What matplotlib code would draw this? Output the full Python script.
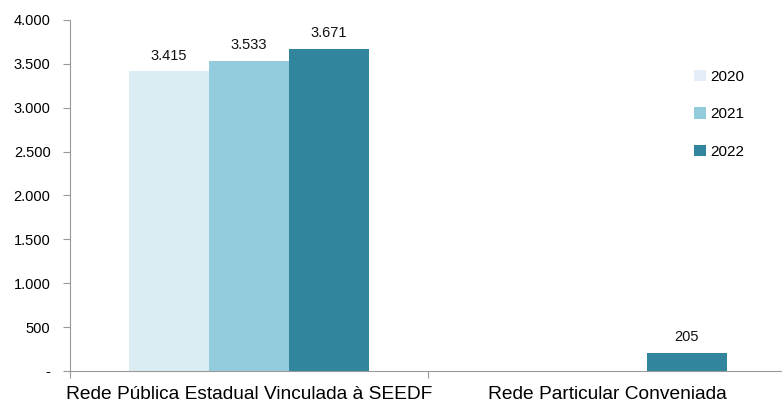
import numpy as np
import matplotlib
matplotlib.use("Agg")
import matplotlib.pyplot as plt
from matplotlib.ticker import FuncFormatter
from matplotlib.patches import Patch

plt.rcParams['font.family'] = ['Liberation Sans', 'DejaVu Sans']

# data
categories = ["Rede Pública Estadual Vinculada à SEEDF", "Rede Particular Conveniada"]
years = ["2020", "2021", "2022"]
v2020 = [3415, None]
v2021 = [3533, None]
v2022 = [3671, 205]
series = [v2020, v2021, v2022]
colors = ["#DAEDF3", "#93CDDD", "#31859C"]
legend_colors = ["#E4EDF7", "#93CDDD", "#31859C"]

fig = plt.figure(figsize=(7.82, 4.05), dpi=100)
# axis runs a little past the right edge, as in the source
ax = fig.add_axes([70 / 782, 1 - 371 / 405, 716 / 782, 351 / 405])

x = np.arange(len(categories))
w = 0.223
for i, (vals, col) in enumerate(zip(series, colors)):
    off = (i - 1) * w
    for xi, v in zip(x, vals):
        if v is None:
            continue
        ax.bar(xi + off, v, width=w, color=col, edgecolor="none")
        ax.text(xi + off, v + 100, f"{v:,}".replace(",", "."),
                ha="center", va="bottom", fontsize=10.5, color="#111111")

ax.set_xlim(-0.5, 1.5)
ax.set_ylim(0, 4000)
ax.set_yticks(np.arange(0, 4001, 500))
ax.yaxis.set_major_formatter(FuncFormatter(
    lambda v, p: "-" if v == 0 else f"{int(v):,}".replace(",", ".")))
ax.set_xticks([-0.5, 0.5, 1.5])
ax.set_xticklabels([])
ax.set_xticks(x, minor=True)
ax.set_xticklabels(categories, minor=True, fontsize=13.8)
ax.tick_params(axis="x", which="major", length=5, color="#999999")
ax.tick_params(axis="x", which="minor", length=0, pad=11)
ax.tick_params(axis="y", labelsize=10.5, length=5, color="#999999", pad=9)

for s in ["top", "right"]:
    ax.spines[s].set_visible(False)
for s in ["left", "bottom"]:
    ax.spines[s].set_color("#999999")

handles = [Patch(facecolor=c, edgecolor="none") for c in legend_colors]
fig.legend(handles, years, loc="upper left", bbox_to_anchor=(0.87, 0.862),
           frameon=False, fontsize=11, handlelength=0.75, handleheight=0.75,
           handletextpad=0.3, labelspacing=1.55)

fig.savefig("out.png", dpi=100)
